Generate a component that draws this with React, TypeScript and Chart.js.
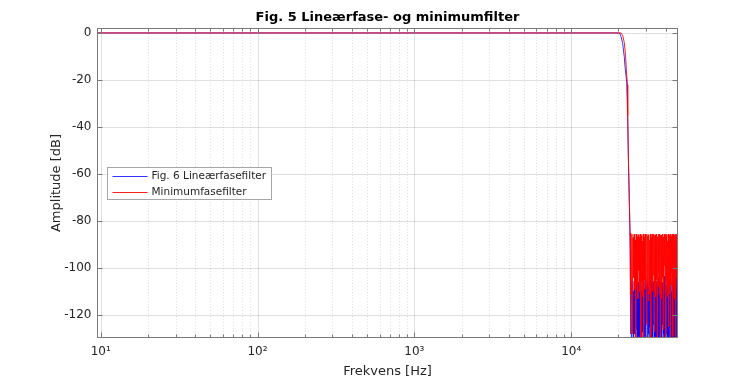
import React, { useEffect, useRef } from 'react';
import { Chart, registerables } from 'chart.js';

Chart.register(...registerables);

// ---------- text ----------
const chartTitle = 'Fig. 5 Lineærfase- og minimumfilter';
const xAxisTitle = 'Frekvens [Hz]';
const yAxisTitle = 'Amplitude [dB]';
const seriesNames = ['Fig. 6 Lineærfasefilter', 'Minimumfasefilter'];

// ---------- axes ----------
const xTickValues = [10, 100, 1000, 10000];
const xTickLabels = ['10¹', '10²', '10³', '10⁴'];
const yTickValues = [-120, -100, -80, -60, -40, -20, 0];
const xRange = [9.47, 48000];
const yRange = [-129.7, 2.1];

// ---------- data ----------
// passband (both filters)
const passbandHz = [9.47, 100, 1000, 10000, 20000];
const passbandDb = [0, 0, 0, 0, 0];

// transition band, linear-phase filter
const linTransHz = [20300, 20800, 21300, 21800, 22100, 22600, 22900, 23200, 23500, 23800, 23900];
const linTransDb = [0, -1.5, -4.5, -10, -15, -21, -35, -55, -72, -92, -115];

// transition band, minimum-phase filter
const minTransHz = [20800, 21300, 21800, 22200, 22500, 22850, 22950, 23200, 23500, 23750, 23850, 23950];
const minTransDb = [0, -1, -4, -9, -16, -22, -35, -55, -72, -85, -100, -128];

// stopband: FFT bins from 24 kHz to 48 kHz
const stopStartHz = 24000;
const stopEndHz = 48000;
const linStopDb = [
  -108, -131, -106, -124, -110, -139, -105.5, -128, -109, -135, -103.5, -126,
  -111, -142, -106, -129, -108.5, -133, -105.5, -125, -110, -138, -107, -127,
  -106, -144, -109, -130, -104, -134, -111, -123, -107, -140, -106, -128,
  -108, -136, -105.5, -125, -110, -141, -103, -131, -106, -137, -109, -124,
  -105.5, -143, -108, -129, -106.5, -133, -110, -138, -105.5, -126, -107, -140,
  -104, -130, -106, -135, -108, -127, -105.5, -145, -110, -132, -107, -124,
  -106, -139, -109, -128, -103.5, -134, -108, -137, -106, -126, -110, -142,
  -107, -131, -105.5, -129, -109, -138, -106, -133, -108, -125, -107, -141,
  -104.5, -130, -110, -136, -106, -127, -108.5, -143, -105.5, -132, -109, -128,
  -107, -139, -106, -126, -110, -135, -104, -131, -108, -137, -106, -129,
  -108,
];
const minStopDb = [
  -86, -111, -85.5, -128, -87, -104, -85.6, -109, -88, -135, -85.5, -107,
  -86.5, -113, -85.8, -101, -87, -110, -85.5, -131, -86.2, -106, -88.5, -112,
  -85.5, -138, -86.8, -105, -85.6, -109, -87.5, -124, -85.5, -108, -86.3, -114,
  -85.7, -98, -88, -111, -85.5, -133, -86.9, -106, -85.6, -110, -87.2, -103,
  -85.5, -127, -86.1, -109, -85.8, -112, -88.3, -105, -85.5, -136, -86.6, -108,
  -85.6, -102, -87.4, -111, -85.5, -130, -86, -107, -85.9, -113, -88.1, -104,
  -85.5, -126, -86.7, -110, -85.6, -99, -87, -108, -85.5, -139, -86.4, -106,
  -85.7, -112, -88.6, -109, -85.5, -125, -86.2, -105, -85.8, -111, -87.1, -132,
  -85.5, -107, -86.5, -102, -85.6, -110, -87.8, -129, -85.5, -108, -86.3, -113,
  -85.9, -106, -88.2, -134, -85.5, -109, -86.8, -104, -85.6, -111, -87.3, -128,
  -86,
];

// ---------- styles ----------
const FONT = 'DejaVu Sans';
const TEXT = '#262626';
const AXIS = '#7a7a7a';
const BLUE = 'rgba(0,0,255,0.8)';
const RED = 'rgba(255,0,0,0.88)';

function buildSeries(transHz: number[], transDb: number[], stopDb: number[]) {
  const pts: { x: number; y: number }[] = [];
  passbandHz.forEach((x, i) => pts.push({ x, y: passbandDb[i] }));
  transHz.forEach((x, i) => pts.push({ x, y: transDb[i] }));
  const bin = (stopEndHz - stopStartHz) / (stopDb.length - 1);
  stopDb.forEach((y, i) => pts.push({ x: stopStartHz + i * bin, y }));
  return pts;
}

const matlabAxes = {
  id: 'matlabAxes',
  beforeDatasetsDraw(chart: any) {
    const { ctx, chartArea: a, scales } = chart;
    const xs = scales.x;
    const ys = scales.y;
    ctx.save();
    // minor x grid (dotted)
    ctx.strokeStyle = 'rgba(38,38,38,0.14)';
    ctx.lineWidth = 1;
    ctx.setLineDash([1, 2]);
    for (let e = 0; e <= 4; e++) {
      for (let k = 2; k <= 9; k++) {
        const v = k * Math.pow(10, e);
        if (v <= xRange[0] || v >= xRange[1]) continue;
        const px = Math.round(xs.getPixelForValue(v)) + 0.5;
        ctx.beginPath();
        ctx.moveTo(px, a.top);
        ctx.lineTo(px, a.bottom);
        ctx.stroke();
      }
    }
    ctx.setLineDash([]);
    ctx.strokeStyle = 'rgba(38,38,38,0.15)';
    xTickValues.forEach((v) => {
      const px = Math.round(xs.getPixelForValue(v)) + 0.5;
      ctx.beginPath();
      ctx.moveTo(px, a.top);
      ctx.lineTo(px, a.bottom);
      ctx.stroke();
    });
    yTickValues.forEach((v) => {
      const py = Math.round(ys.getPixelForValue(v)) + 0.5;
      ctx.beginPath();
      ctx.moveTo(a.left, py);
      ctx.lineTo(a.right, py);
      ctx.stroke();
    });
    ctx.restore();
  },
  afterDatasetsDraw(chart: any) {
    const { ctx, chartArea: a, scales } = chart;
    const xs = scales.x;
    const ys = scales.y;
    ctx.save();
    const L = Math.round(a.left) + 0.5;
    const R = Math.round(a.right) - 0.5;
    const T = Math.round(a.top) + 0.5;
    const B = Math.round(a.bottom) - 0.5;
    ctx.strokeStyle = AXIS;
    ctx.lineWidth = 1;
    ctx.strokeRect(L, T, R - L, B - T);
    // x ticks (inward, top and bottom)
    for (let e = 0; e <= 4; e++) {
      for (let k = 1; k <= 9; k++) {
        const v = k * Math.pow(10, e);
        if (v <= xRange[0] || v >= xRange[1]) continue;
        const len = k === 1 ? 5 : 3;
        const px = Math.round(xs.getPixelForValue(v)) + 0.5;
        ctx.beginPath();
        ctx.moveTo(px, B);
        ctx.lineTo(px, B - len);
        ctx.moveTo(px, T);
        ctx.lineTo(px, T + len);
        ctx.stroke();
      }
    }
    yTickValues.forEach((v) => {
      const py = Math.round(ys.getPixelForValue(v)) + 0.5;
      ctx.beginPath();
      ctx.moveTo(L, py);
      ctx.lineTo(L + 5, py);
      ctx.moveTo(R, py);
      ctx.lineTo(R - 5, py);
      ctx.stroke();
    });

    // titles
    const cx = (a.left + a.right) / 2;
    const cy = (a.top + a.bottom) / 2;
    ctx.fillStyle = '#000000';
    ctx.textAlign = 'center';
    ctx.textBaseline = 'alphabetic';
    ctx.font = `bold 13px "${FONT}"`;
    ctx.fillText(chartTitle, cx, 20.7);
    ctx.fillStyle = TEXT;
    ctx.font = `13px "${FONT}"`;
    ctx.fillText(xAxisTitle, cx, 374.5);
    ctx.save();
    ctx.translate(60, cy);
    ctx.rotate(-Math.PI / 2);
    ctx.fillText(yAxisTitle, 0, 0);
    ctx.restore();

    // legend (west)
    ctx.font = `10.5px "${FONT}"`;
    const tw = Math.max(...seriesNames.map((s) => ctx.measureText(s).width));
    const bx = Math.round(a.left + 9.5) + 0.5;
    const bh = 32;
    const by = Math.round(cy - bh / 2) + 0.5;
    const bw = Math.round(44 + tw + 5);
    ctx.fillStyle = '#ffffff';
    ctx.fillRect(bx, by, bw, bh);
    ctx.strokeStyle = '#a6a6a6';
    ctx.strokeRect(bx, by, bw, bh);
    const colors = [BLUE, RED];
    seriesNames.forEach((name, i) => {
      const ry = by + 8.5 + i * 15.5;
      ctx.strokeStyle = colors[i];
      ctx.lineWidth = 1;
      ctx.beginPath();
      ctx.moveTo(bx + 5, Math.round(ry) + 0.5);
      ctx.lineTo(bx + 40, Math.round(ry) + 0.5);
      ctx.stroke();
      ctx.fillStyle = TEXT;
      ctx.textAlign = 'left';
      ctx.textBaseline = 'middle';
      ctx.fillText(name, bx + 44, ry + 0.5);
    });
    ctx.restore();
  },
};

export default function App() {
  const canvasRef = useRef<HTMLCanvasElement | null>(null);

  useEffect(() => {
    const canvas = canvasRef.current;
    if (!canvas) return;
    const chart = new Chart(canvas, {
      type: 'line',
      data: {
        datasets: [
          {
            label: seriesNames[0],
            data: buildSeries(linTransHz, linTransDb, linStopDb),
            borderColor: BLUE,
            borderWidth: 1,
            pointRadius: 0,
            tension: 0,
            order: 1,
          },
          {
            label: seriesNames[1],
            data: buildSeries(minTransHz, minTransDb, minStopDb),
            borderColor: RED,
            borderWidth: 1,
            pointRadius: 0,
            tension: 0,
            order: 0,
          },
        ],
      },
      options: {
        animation: false,
        responsive: false,
        devicePixelRatio: 1,
        layout: { padding: { left: 0, top: 28, right: 72, bottom: 0 } },
        plugins: {
          legend: { display: false },
          title: { display: false },
          tooltip: { enabled: false },
        },
        scales: {
          x: {
            type: 'logarithmic',
            min: xRange[0],
            max: xRange[1],
            grid: { display: false, drawTicks: false, tickLength: 0 },
            border: { display: false },
            afterBuildTicks: (scale: any) => {
              scale.ticks = xTickValues.map((v) => ({ value: v, major: true }));
            },
            afterFit: (scale: any) => {
              scale.height = 42;
            },
            ticks: {
              autoSkip: false,
              maxRotation: 0,
              minRotation: 0,
              padding: 7,
              color: TEXT,
              font: { family: FONT, size: 12 },
              callback: (v: any) => {
                const i = xTickValues.indexOf(Number(v));
                return i >= 0 ? xTickLabels[i] : '';
              },
            },
          },
          y: {
            type: 'linear',
            min: yRange[0],
            max: yRange[1],
            grid: { display: false, drawTicks: false, tickLength: 0 },
            border: { display: false },
            afterBuildTicks: (scale: any) => {
              scale.ticks = yTickValues.map((v) => ({ value: v }));
            },
            afterFit: (scale: any) => {
              scale.width = 97;
            },
            ticks: {
              padding: 5.5,
              color: TEXT,
              font: { family: FONT, size: 12 },
              callback: (v: any) => String(v),
            },
          },
        },
      },
      plugins: [matlabAxes],
    } as any);
    return () => chart.destroy();
  }, []);

  return (
    <div style={{ position: 'fixed', left: 0, top: 0, width: 750, height: 380, background: '#ffffff' }}>
      <canvas ref={canvasRef} width={750} height={380} />
    </div>
  );
}
